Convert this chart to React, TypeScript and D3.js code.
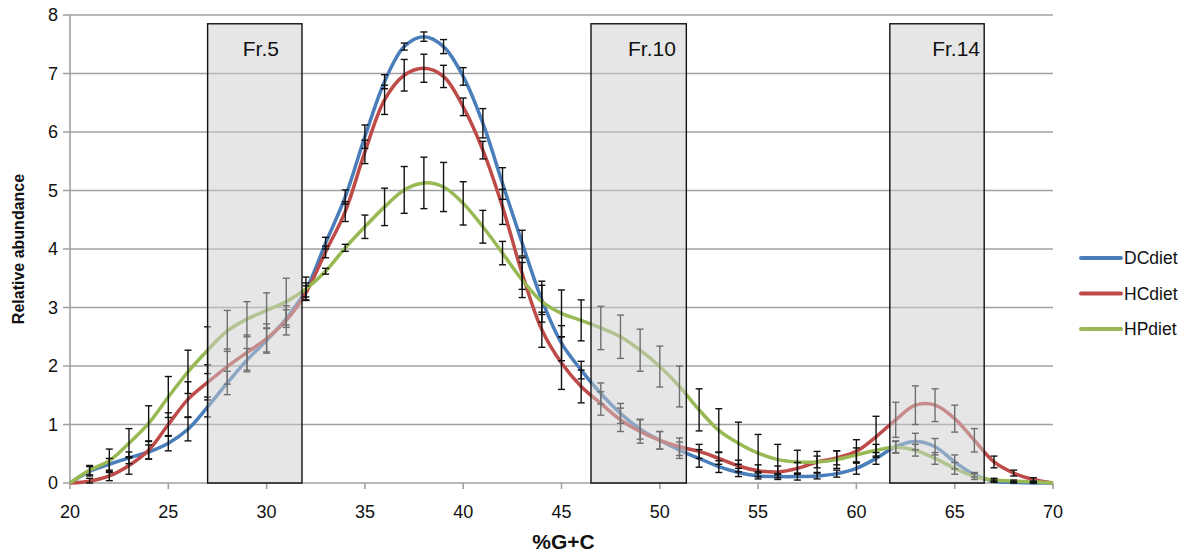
import React from "react";
import * as d3 from "d3";

const gc = d3.range(20, 71);
const dcDiet = [0, 0.2, 0.32, 0.43, 0.53, 0.68, 0.92, 1.3, 1.71, 2.1, 2.44, 2.81, 3.3, 4.1, 4.89, 5.92, 6.86, 7.46, 7.63, 7.46, 6.95, 6.15, 5.12, 4.1, 3.13, 2.39, 1.93, 1.53, 1.19, 0.92, 0.73, 0.56, 0.42, 0.28, 0.18, 0.12, 0.11, 0.11, 0.12, 0.16, 0.25, 0.42, 0.62, 0.71, 0.62, 0.36, 0.14, 0.03, 0.01, 0.0, 0];
const hcDiet = [0, 0.03, 0.12, 0.3, 0.56, 1.0, 1.43, 1.72, 1.99, 2.23, 2.47, 2.78, 3.25, 3.95, 4.64, 5.66, 6.55, 6.97, 7.09, 6.95, 6.43, 5.69, 4.72, 3.58, 2.62, 2.05, 1.65, 1.36, 1.08, 0.88, 0.73, 0.62, 0.54, 0.42, 0.29, 0.21, 0.19, 0.25, 0.36, 0.43, 0.54, 0.79, 1.08, 1.33, 1.33, 1.1, 0.73, 0.36, 0.17, 0.06, 0];
const hpDiet = [0, 0.22, 0.38, 0.68, 1.02, 1.47, 1.9, 2.27, 2.6, 2.8, 2.95, 3.1, 3.32, 3.62, 4.02, 4.38, 4.72, 5.01, 5.13, 5.06, 4.78, 4.38, 3.93, 3.47, 3.1, 2.9, 2.78, 2.65, 2.5, 2.27, 1.99, 1.65, 1.25, 0.9, 0.68, 0.51, 0.4, 0.36, 0.36, 0.4, 0.48, 0.56, 0.61, 0.56, 0.42, 0.25, 0.11, 0.05, 0.03, 0.02, 0];
const dcErr = [0, 0.08, 0.1, 0.1, 0.12, 0.13, 0.2, 0.17, 0.2, 0.2, 0.2, 0.15, 0.12, 0.1, 0.12, 0.2, 0.12, 0.06, 0.08, 0.12, 0.15, 0.25, 0.27, 0.22, 0.25, 0.3, 0.15, 0.18, 0.17, 0.17, 0.15, 0.14, 0.15, 0.1, 0.07, 0.05, 0.05, 0.06, 0.05, 0.06, 0.1, 0.1, 0.1, 0.14, 0.14, 0.12, 0.04, 0.02, 0.01, 0, 0];
const hcErr = [0, 0.05, 0.08, 0.15, 0.15, 0.2, 0.3, 0.3, 0.3, 0.3, 0.25, 0.25, 0.12, 0.1, 0.17, 0.2, 0.25, 0.27, 0.24, 0.19, 0.15, 0.15, 0.3, 0.27, 0.3, 0.45, 0.28, 0.2, 0.2, 0.2, 0.15, 0.15, 0.12, 0.1, 0.1, 0.1, 0.1, 0.1, 0.1, 0.12, 0.2, 0.35, 0.3, 0.33, 0.28, 0.23, 0.2, 0.1, 0.05, 0.03, 0];
const hpErr = [0, 0.08, 0.2, 0.25, 0.3, 0.35, 0.37, 0.4, 0.35, 0.3, 0.3, 0.4, 0.2, 0.05, 0.06, 0.2, 0.32, 0.4, 0.44, 0.42, 0.37, 0.28, 0.2, 0.3, 0.35, 0.4, 0.35, 0.37, 0.37, 0.36, 0.35, 0.35, 0.36, 0.37, 0.36, 0.32, 0.26, 0.2, 0.18, 0.15, 0.12, 0.1, 0.1, 0.1, 0.1, 0.1, 0.05, 0.03, 0.02, 0.01, 0];

const seriesNames = ["DCdiet", "HCdiet", "HPdiet"];
const seriesValues = [dcDiet, hcDiet, hpDiet];
const seriesErrors = [dcErr, hcErr, hpErr];
const seriesColors = ["#4a7ebb", "#be4b48", "#98b954"];

const fractionLabels = ["Fr.5", "Fr.10", "Fr.14"];
const fractionStart = [27.0, 46.5, 61.7];
const fractionEnd = [31.8, 51.35, 66.5];
const fractionLabelEnd = [30.63, 50.82, 66.29];
const fractionTop = 7.85;

const xTicks = [20, 25, 30, 35, 40, 45, 50, 55, 60, 65, 70];
const yTicks = [0, 1, 2, 3, 4, 5, 6, 7, 8];

const W = 1186;
const H = 553;
const left = 70;
const right = 1053;
const top = 15;
const bottom = 483;

export default function App() {
  const x = d3.scaleLinear().domain([20, 70]).range([left, right]);
  const y = d3.scaleLinear().domain([0, 8]).range([bottom, top]);
  const line = d3
    .line<number>()
    .x((_, i) => x(gc[i]))
    .y((d) => y(d))
    .curve(d3.curveCatmullRom.alpha(0.5));
  const font = "'Liberation Sans', Arial, sans-serif";
  const grid = "#a0a0a0";

  return (
    <div style={{ position: "absolute", left: 0, top: 0 }}>
      <svg width={W} height={H} style={{ display: "block", background: "#fff" }} fontFamily={font}>
        {yTicks.map((t) => (
          <line key={"g" + t} x1={left - 7} x2={right} y1={y(t)} y2={y(t)} stroke={grid} strokeWidth={1.6} />
        ))}
        <line x1={left} x2={left} y1={top} y2={bottom} stroke={grid} strokeWidth={1.6} />
        {xTicks.map((t) => (
          <line key={"xt" + t} x1={x(t)} x2={x(t)} y1={bottom} y2={bottom + 6} stroke={grid} strokeWidth={1.6} />
        ))}
        {yTicks.map((t) => (
          <text key={"yl" + t} x={left - 12} y={y(t)} dy="0.36em" textAnchor="end" fontSize={18} fill="#111">
            {t}
          </text>
        ))}
        {xTicks.map((t) => (
          <text key={"xl" + t} x={x(t)} y={518} textAnchor="middle" fontSize={18} fill="#111">
            {t}
          </text>
        ))}
        {seriesValues.map((vals, si) => (
          <path key={"s" + si} d={line(vals) || ""} fill="none" stroke={seriesColors[si]} strokeWidth={3.5} strokeLinejoin="round" />
        ))}
        {seriesValues.map((vals, si) =>
          vals.map((v, i) => {
            const e = seriesErrors[si][i];
            if (i === 0 || i === vals.length - 1) return null;
            const cx = x(gc[i]);
            const y1 = y(v + e);
            const y2 = y(Math.max(0, v - e));
            return (
              <g key={"e" + si + "-" + i} stroke="#111" strokeWidth={1.4}>
                <line x1={cx} x2={cx} y1={y1} y2={y2} />
                <line x1={cx - 3.5} x2={cx + 3.5} y1={y1} y2={y1} />
                <line x1={cx - 3.5} x2={cx + 3.5} y1={y2} y2={y2} />
              </g>
            );
          })
        )}
        {fractionLabels.map((lab, i) => (
          <g key={"f" + i}>
            <rect
              x={x(fractionStart[i])}
              y={y(fractionTop)}
              width={x(fractionEnd[i]) - x(fractionStart[i])}
              height={y(0) - y(fractionTop)}
              fill="rgba(205,205,205,0.5)"
              stroke="#111"
              strokeWidth={1.4}
            />
            <text x={x(fractionLabelEnd[i])} y={y(fractionTop) + 32} textAnchor="end" fontSize={21} fill="#111">
              {lab}
            </text>
          </g>
        ))}
        {seriesNames.map((n, i) => (
          <g key={"lg" + i}>
            <line x1={1081} x2={1121} y1={258 + i * 35.5} y2={258 + i * 35.5} stroke={seriesColors[i]} strokeWidth={4} strokeLinecap="round" />
            <text x={1124} y={258 + i * 35.5} dy="0.36em" fontSize={17.5} fill="#111">
              {n}
            </text>
          </g>
        ))}
        <text
          transform={`translate(24, ${(top + bottom) / 2}) rotate(-90)`}
          textAnchor="middle"
          fontSize={16}
          fontWeight="bold"
          fill="#111"
        >
          Relative abundance
        </text>
        <text x={(left + right) / 2 + 2} y={549} textAnchor="middle" fontSize={21} fontWeight="bold" fill="#111">
          %G+C
        </text>
      </svg>
    </div>
  );
}
